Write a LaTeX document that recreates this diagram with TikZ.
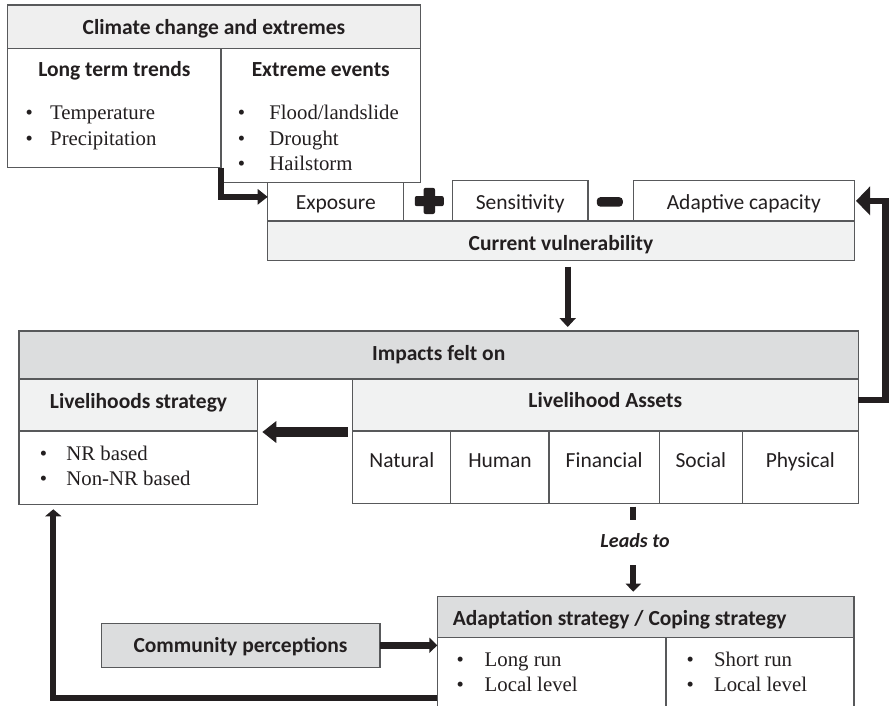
\documentclass[tikz,border=0pt]{standalone}
\usepackage{fontspec}
\setmainfont{Liberation Serif}
\setsansfont{Carlito}
\usetikzlibrary{arrows.meta}
\definecolor{ink}{HTML}{231F20}
\definecolor{edge}{HTML}{58595B}
\definecolor{gA}{HTML}{DCDDDE}
\definecolor{gB}{HTML}{F1F2F2}
\definecolor{gC}{HTML}{EFEFEF}
\newcommand{\bul}[1][17.4pt]{\llap{•\hspace{#1}}}
\tikzset{
 cell/.style={draw=edge, line width=1.2pt, inner sep=0pt, outer sep=0pt, fill=white},
 sz/.style 2 args={minimum width=#1pt, minimum height=#2pt},
 lab/.style={inner sep=0pt, anchor=base, text=ink, font=\fontsize{21.5}{25}\selectfont\sffamily},
 blab/.style={lab, font=\fontsize{21.5}{25}\selectfont\sffamily\bfseries},
 itm/.style={inner sep=0pt, anchor=base west, text=ink, font=\fontsize{20.8}{24}\selectfont\rmfamily},
 conn/.style={draw=ink, line width=6.3pt},
}
\begin{document}
\begin{tikzpicture}[x=1pt,y=-1pt]
\useasboundingbox (0,0) rectangle (889,705);
\clip (0,0) rectangle (889,705);
\fill[white] (0,0) rectangle (889,705);
% climate block
\node[cell, fill=gC, sz={413.4}{43.3}] (climhead) at (214,26.65) {};
\node[cell, sz={213.7}{119.4}] (longterm) at (114.15,108) {};
\node[cell, sz={199.7}{134.4}] (extreme) at (320.85,115.5) {};
\node[blab] (tClim) at (214,34) {Climate change and extremes};
\node[blab] (tLong) at (114.4,76.7) {Long term trends};
\node[blab] (tExt) at (320.8,76.7) {Extreme events};
\node[itm] (i1) at (50,119.5) {\bul Temperature};
\node[itm] (i2) at (50,145) {\bul Precipitation};
\node[itm] (i3) at (264,119.5) {\bul[19pt] Flood/landslide};
\node[itm] (i4) at (264,145) {\bul[19pt] Drought};
\node[itm] (i5) at (264,170) {\bul[19pt] Hailstorm};
% vulnerability block
\node[cell, sz={135.6}{38.3}] (exposure) at (335.5,201.85) {};
\node[cell, sz={135.7}{40.3}] (sensitivity) at (520.15,200.85) {};
\node[cell, sz={220.6}{40.3}] (adaptive) at (744,200.85) {};
\node[cell, fill=gB, sz={586.6}{39.7}] (currvul) at (561,240.85) {};
\node[lab] (tExp) at (335.8,209.3) {Exposure};
\node[lab] (tSen) at (520.2,209.3) {Sensitivity};
\node[lab] (tAda) at (743.8,209.3) {Adaptive capacity};
\node[blab] (tCur) at (561,250.7) {Current vulnerability};
\fill[ink, rounded corners=2pt] (414.8,196) rectangle (443.8,206.2);
\fill[ink, rounded corners=2pt] (423.6,187.8) rectangle (435,214);
\fill[ink, rounded corners=3.5pt] (596.8,197.2) rectangle (622.8,206.6);
% impacts block
\node[cell, fill=gA, sz={839.3}{48}] (impacts) at (438.65,355) {};
\node[cell, fill=gB, sz={238.3}{52}] (lshead) at (138.15,405) {};
\node[cell, sz={238.3}{73.3}] (lsbody) at (138.15,467.65) {};
\node[cell, fill=gB, sz={506}{52}] (lahead) at (605.3,405) {};
\node[cell, sz={98.4}{72.7}] (natural) at (401.5,467.35) {};
\node[cell, sz={98.3}{72.7}] (human) at (499.85,467.35) {};
\node[cell, sz={110.3}{72.7}] (financial) at (604.15,467.35) {};
\node[cell, sz={83}{72.7}] (social) at (700.8,467.35) {};
\node[cell, sz={116}{72.7}] (physical) at (800.3,467.35) {};
\node[blab] (tImp) at (438.7,360) {Impacts felt on};
\node[blab] (tLS) at (138.5,408.3) {Livelihoods strategy};
\node[blab] (tLA) at (605.3,407.5) {Livelihood Assets};
\node[itm] (i6) at (61,460) {\bul[14pt] NR based};
\node[itm] (i7) at (61,485) {\bul[14pt] Non-NR based};
\node[lab] (tNat) at (401.8,467.3) {Natural};
\node[lab] (tHum) at (500,467.3) {Human};
\node[lab] (tFin) at (604.2,467.3) {Financial};
\node[lab] (tSoc) at (700.8,467.3) {Social};
\node[lab] (tPhy) at (800.3,467.3) {Physical};
% adaptation block
\node[cell, fill=gA, sz={278.7}{44}] (community) at (240.65,645.3) {};
\node[blab] (tCom) at (240.5,652.3) {Community perceptions};
\node[cell, fill=gA, sz={416.7}{40.6}] (adhead) at (645.65,617) {};
\node[cell, sz={228.7}{82.7}] (adL) at (551.65,678.65) {};
\node[cell, sz={188}{82.7}] (adR) at (760,678.65) {};
\node[blab, anchor=base west] (tAdh) at (452.7,625.7) {Adaptation strategy / Coping strategy};
\node[itm] (i8) at (479.3,666) {\bul[15.7pt] Long run};
\node[itm] (i9) at (479.3,691) {\bul[15.7pt] Local level};
\node[itm] (i10) at (708.7,666) {\bul[15.1pt] Short run};
\node[itm] (i11) at (708.7,691) {\bul[15.1pt] Local level};
\node[lab, font=\fontsize{20}{24}\selectfont\sffamily\bfseries\itshape] (tLeads) at (635,547.3) {Leads to};
% connectors
\draw[conn, -{Triangle[length=10pt,width=15pt]}] (longterm.south east) |- ([yshift=5pt]exposure.west);
\coordinate (a2s) at (567.7,266.7);
\path (a2s |- impacts.north) coordinate (a2t);
\draw[conn, -{Triangle[length=9pt,width=16pt]}] (a2s) -- ([yshift=4pt]a2t);
\draw[draw=ink, line width=10.6pt, -{Triangle[length=14pt,width=21pt]}] ([xshift=-4.6pt,yshift=-1pt]lahead.south west) -- ([xshift=5pt,yshift=-1pt]lshead.south east);
\draw[conn, -{Triangle[length=14pt,width=28pt]}] ([yshift=5pt]lahead.east) -- ++(27.2,0) |- ([xshift=1.7pt]adaptive.east);
\coordinate (l1) at (633.3,506.7);
\coordinate (l2) at (633.3,520);
\coordinate (l3) at (633.3,565);
\path (l3 |- adhead.north) coordinate (l4);
\draw[conn] (l1) -- (l2);
\draw[conn, -{Triangle[length=8pt,width=15pt]}] (l3) -- ([yshift=5pt]l4);
\draw[draw=ink, line width=7pt, -{Triangle[length=8pt,width=15pt]}] (community.east) -- (community.east -| adhead.west);
\coordinate (b0) at (437.3,697.7);
\draw[conn, -{Triangle[length=7pt,width=16pt]}] (b0) -| ([xshift=-84.85pt,yshift=-5pt]lsbody.south);
\end{tikzpicture}
\end{document}
